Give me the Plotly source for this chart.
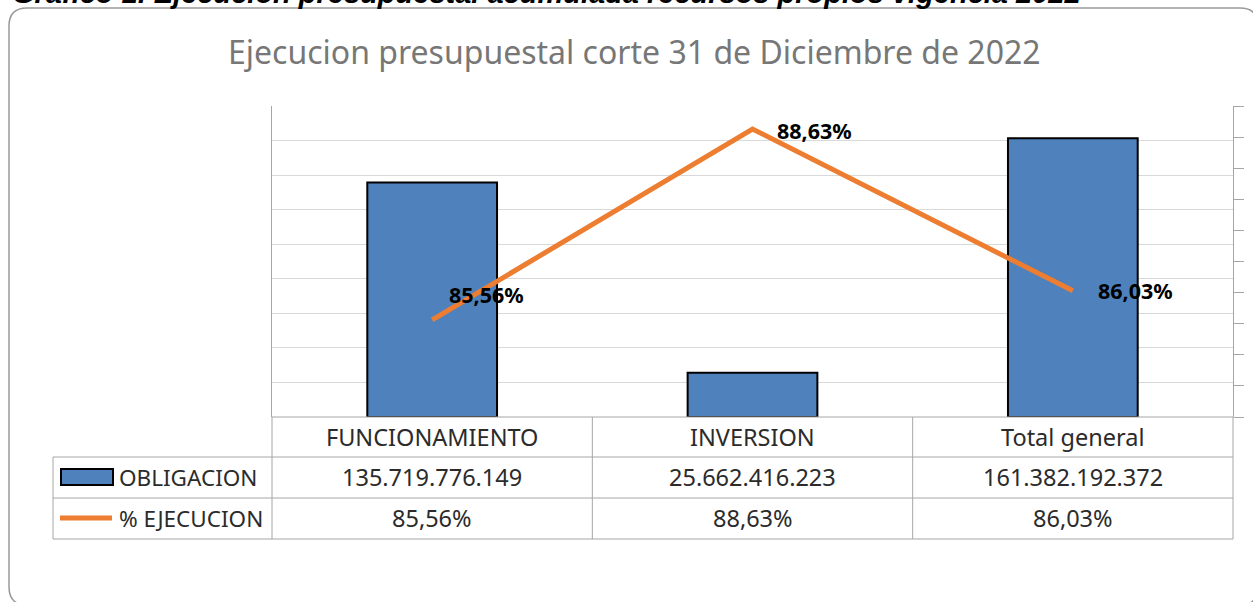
import plotly.graph_objects as go

# ---------------- data ----------------
categories = ["FUNCIONAMIENTO", "INVERSION", "Total general"]
obligacion = [135719776149, 25662416223, 161382192372]
ejecucion = [0.8556, 0.8863, 0.8603]
series_names = ["OBLIGACION", "% EJECUCION"]
title_text = "Ejecucion presupuestal corte 31 de Diciembre de 2022"
caption_text = "Gráfico 1. Ejecución presupuestal acumulada recursos propios vigencia 2022"


def fmt_money(v):
    return f"{v:,}".replace(",", ".")


def fmt_pct(v):
    return f"{v * 100:.2f}%".replace(".", ",")


# ---------------- geometry helpers ----------------
W, H = 1253, 602


def px(x):
    return x / W


def py(y):
    return 1 - y / H


BLUE = "#4F81BD"
ORANGE = "#ED7D31"
GRID = "#D9D9D9"
LINE = "#A6A6A6"
TXT = "#2b2b2b"
FONT = "Noto Sans"

PLOT_L, PLOT_R, PLOT_T, PLOT_B = 272, 1233, 106, 417
ROW1, ROW2, ROW3 = 457, 498, 539
TABLE_L = 53

fig = go.Figure()
fig.add_trace(go.Bar(
    x=categories, y=obligacion, name=series_names[0],
    marker=dict(color=BLUE, line=dict(color="black", width=2)),
    width=0.405, yaxis="y",
))
fig.add_trace(go.Scatter(
    x=categories, y=ejecucion, name=series_names[1], mode="lines",
    line=dict(color=ORANGE, width=5), yaxis="y2",
))

shapes = []
annotations = []

# chart border (rounded)
x0, y0, x1, y1, r = 9, 8, 1258, 605, 18
path = (f"M {px(x0 + r)} {py(y0)} L {px(x1 - r)} {py(y0)} Q {px(x1)} {py(y0)} {px(x1)} {py(y0 + r)} "
        f"L {px(x1)} {py(y1 - r)} Q {px(x1)} {py(y1)} {px(x1 - r)} {py(y1)} "
        f"L {px(x0 + r)} {py(y1)} Q {px(x0)} {py(y1)} {px(x0)} {py(y1 - r)} "
        f"L {px(x0)} {py(y0 + r)} Q {px(x0)} {py(y0)} {px(x0 + r)} {py(y0)} Z")
shapes.append(dict(type="path", xref="paper", yref="paper", path=path,
                   line=dict(color="#9a9a9a", width=1.5), fillcolor="rgba(0,0,0,0)", layer="below"))


# table lines
def hline(y, xa, xb):
    shapes.append(dict(type="line", xref="paper", yref="paper", x0=px(xa), x1=px(xb),
                       y0=py(y), y1=py(y), line=dict(color=LINE, width=1)))


def vline_paper(x, ya, yb):
    shapes.append(dict(type="line", xref="paper", yref="paper", x0=px(x), x1=px(x),
                       y0=py(ya), y1=py(yb), line=dict(color=LINE, width=1)))


hline(PLOT_B, PLOT_L, PLOT_R)
hline(ROW1, TABLE_L, PLOT_R)
hline(ROW2, TABLE_L, PLOT_R)
hline(ROW3, TABLE_L, PLOT_R)
vline_paper(TABLE_L, ROW1, ROW3)
vline_paper(PLOT_L, PLOT_B, ROW3)
vline_paper(PLOT_R, PLOT_B, ROW3)
for b in [i + 0.5 for i in range(len(categories) - 1)]:
    shapes.append(dict(type="line", xref="x", yref="paper", x0=b, x1=b,
                       y0=py(PLOT_B), y1=py(ROW3), line=dict(color=LINE, width=1)))

# legend keys inside table
shapes.append(dict(type="rect", xref="paper", yref="paper", x0=px(61), x1=px(113),
                   y0=py(469), y1=py(485), fillcolor=BLUE, line=dict(color="black", width=2)))
shapes.append(dict(type="line", xref="paper", yref="paper", x0=px(60), x1=px(112),
                   y0=py(518), y1=py(518), line=dict(color=ORANGE, width=5)))

# texts
annotations.append(dict(text=title_text, xref="paper", yref="paper", x=px(634), y=py(51),
                        showarrow=False, xanchor="center", yanchor="middle",
                        font=dict(family=FONT, size=32, color="#777777")))
annotations.append(dict(text=f"<b><i>{caption_text}</i></b>", xref="paper", yref="paper",
                        x=px(10), y=py(-7), showarrow=False, xanchor="left", yanchor="middle",
                        font=dict(family="Liberation Sans", size=29, color="black")))

label_offsets = [(15, 25), (22, -1), (23, 0)]
for c, v, (dx, dy) in zip(categories, ejecucion, label_offsets):
    annotations.append(dict(text=f"<b>{fmt_pct(v)}</b>", xref="x", yref="y2", x=c, y=v,
                            showarrow=False, xanchor="left", yanchor="middle", xshift=dx, yshift=dy,
                            font=dict(family=FONT, size=21.5, color="black")))

for c, o, e in zip(categories, obligacion, ejecucion):
    for txt, yy in [(c, 437), (fmt_money(o), 477), (fmt_pct(e), 518)]:
        annotations.append(dict(text=txt, xref="x", yref="paper", x=c, y=py(yy),
                                showarrow=False, xanchor="center", yanchor="middle",
                                font=dict(family=FONT, size=23.5, color=TXT)))

for name, yy in zip(series_names, [477, 518]):
    annotations.append(dict(text=name, xref="paper", yref="paper", x=px(117), y=py(yy),
                            showarrow=False, xanchor="left", yanchor="middle",
                            font=dict(family=FONT, size=22.5, color=TXT)))

fig.update_layout(
    width=W, height=H,
    margin=dict(l=0, r=0, t=0, b=0),
    paper_bgcolor="white", plot_bgcolor="white",
    showlegend=False,
    bargap=0.594,
    xaxis=dict(domain=[px(PLOT_L), px(PLOT_R)], range=[-0.5, len(categories) - 0.5],
               showticklabels=False, showgrid=False, showline=False, ticks="", zeroline=False),
    yaxis=dict(domain=[py(PLOT_B), py(PLOT_T)], range=[0, 180e9], dtick=20e9, tick0=0,
               showgrid=True, gridcolor=GRID, gridwidth=1.3, showticklabels=False,
               showline=True, linecolor=LINE, linewidth=1, zeroline=False, ticks=""),
    yaxis2=dict(overlaying="y", side="right", range=[0.84, 0.8900001], tickmode="linear",
                tick0=0.84, dtick=0.005, ticks="outside", ticklen=10, tickcolor=LINE, tickwidth=1,
                showticklabels=False, showline=True, linecolor=LINE, linewidth=1,
                showgrid=False, zeroline=False),
    shapes=shapes,
    annotations=annotations,
)

fig.write_html("out.html")
